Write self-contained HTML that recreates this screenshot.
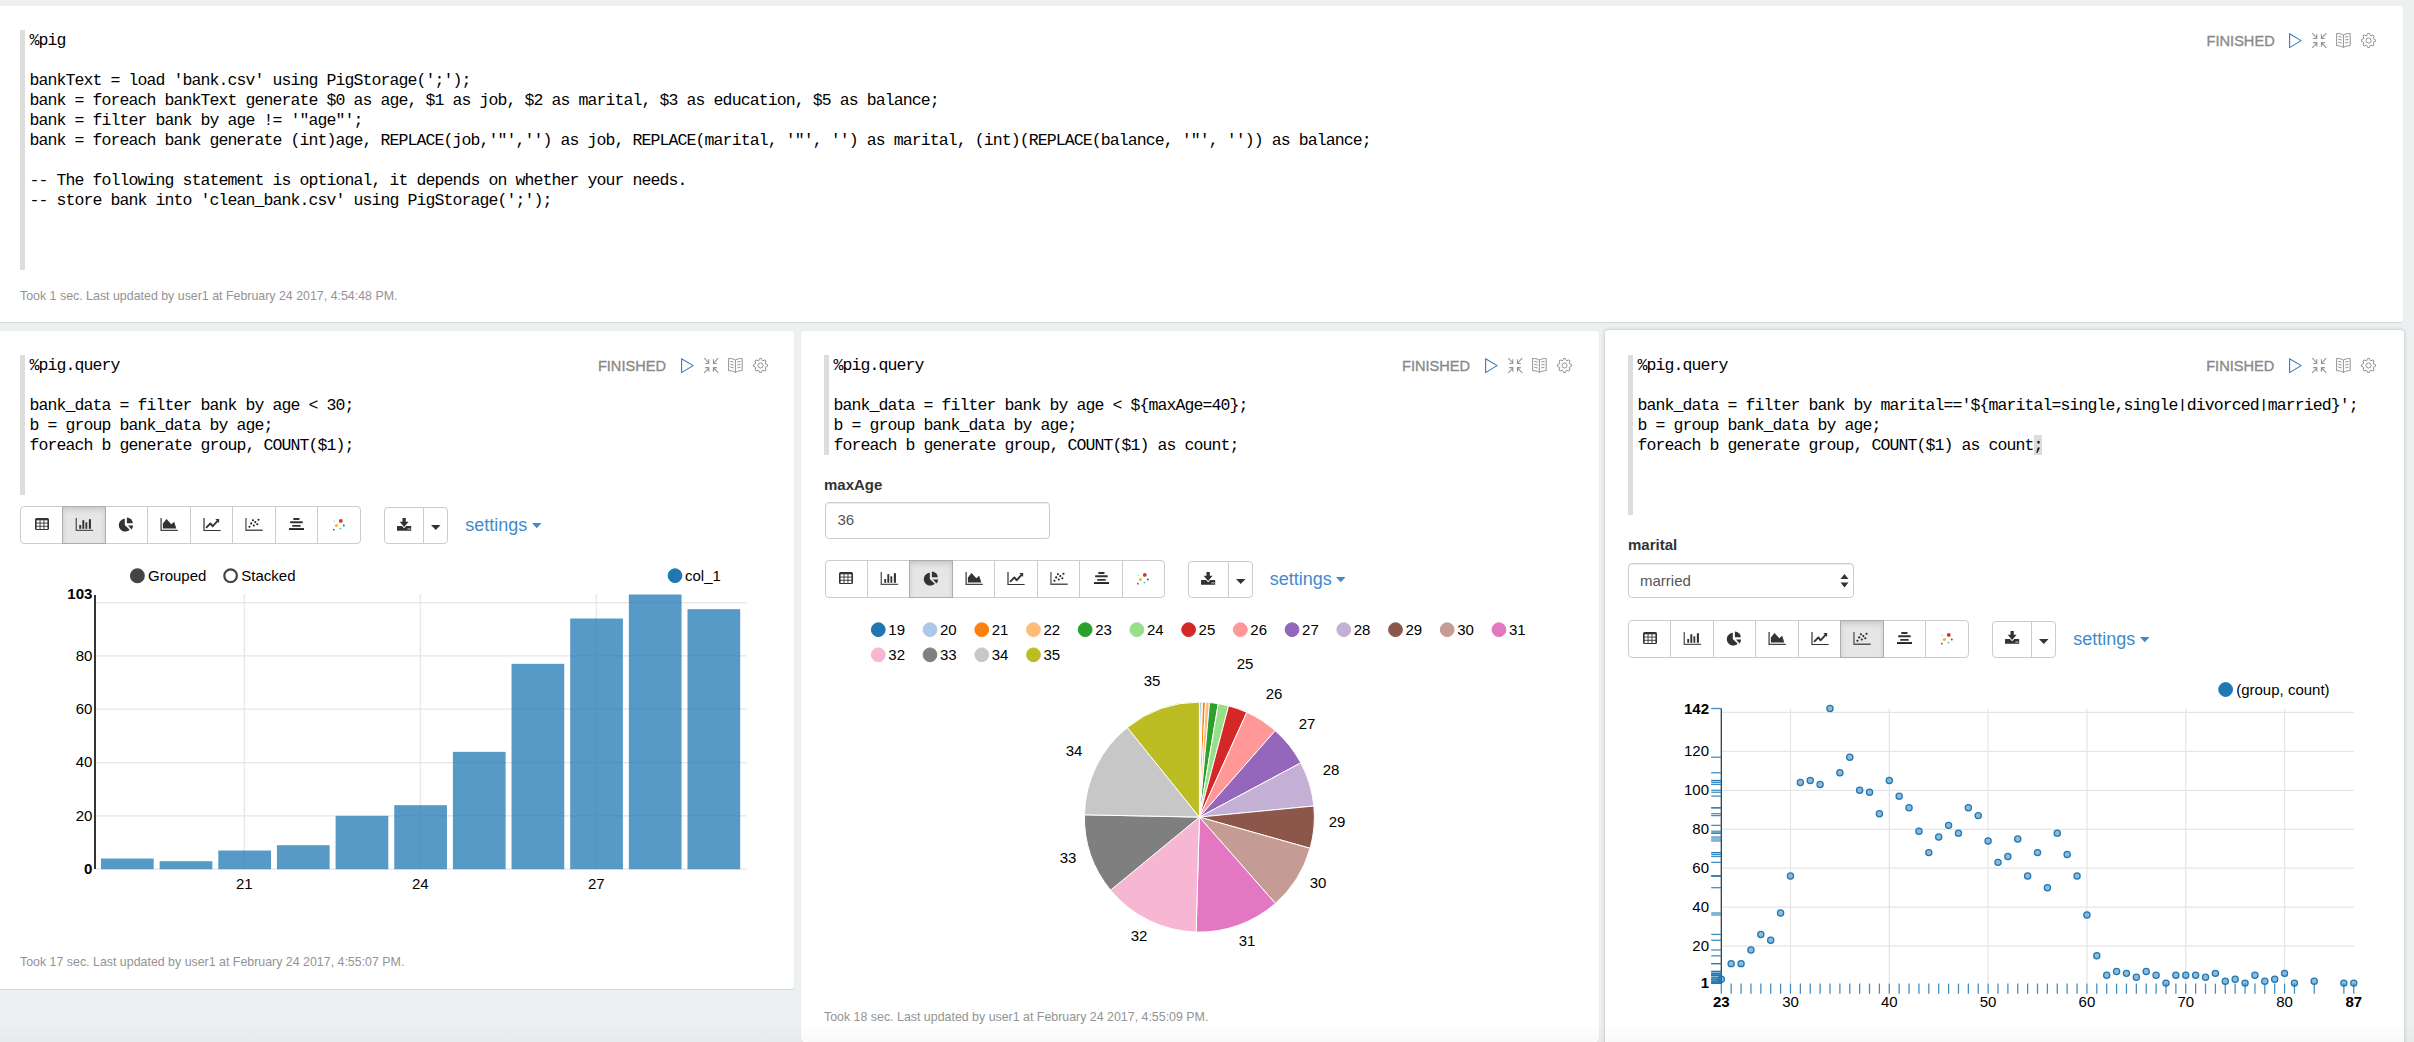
<!DOCTYPE html>
<html><head><meta charset="utf-8"><title>Zeppelin</title>
<style>
*{box-sizing:border-box;margin:0;padding:0}
html,body{width:2414px;height:1042px;overflow:hidden;background:#ecf0f1;font-family:"Liberation Sans", sans-serif;}
.abs{position:absolute}
.panel{position:absolute;background:#fff;border-radius:3px;box-shadow:0 1px 1px rgba(0,0,0,0.10);}
.bar{position:absolute;width:5px;background:#dddddd}
.code{position:absolute;font-family:"Liberation Mono", monospace;font-size:16.5px;letter-spacing:-0.9px;line-height:20px;color:#000;white-space:pre}
.fin{position:absolute;font-family:"Liberation Sans", sans-serif;font-size:14.6px;color:#8a8a8a;-webkit-text-stroke:0.35px #8a8a8a;line-height:16px;text-align:right;width:100px}
.foot{position:absolute;font-family:"Liberation Sans", sans-serif;font-size:12.4px;color:#939393;white-space:pre;line-height:14px}
.lbl{position:absolute;font-family:"Liberation Sans", sans-serif;font-size:15px;font-weight:bold;color:#333;line-height:18px}
.grp{position:absolute;border:1px solid #cccccc;border-radius:4px;background:#fff;overflow:hidden}
.btn{position:absolute;top:0;bottom:0;border-left:1px solid #cccccc}
.btn.first{border-left:none}
.btn.act{background:#e6e6e6;box-shadow:inset 0 3px 5px rgba(0,0,0,.125);border-left:1px solid #adadad;border-right:1px solid #adadad}
.set{position:absolute;font-family:"Liberation Sans", sans-serif;font-size:18px;color:#428bca;line-height:20px;white-space:pre}
svg{position:absolute;overflow:visible}
.t15{font-family:"Liberation Sans", sans-serif;font-size:15px;fill:#000}
</style></head><body>

<div class="panel" style="left:-4px;top:6px;width:2407px;height:316px"></div>
<div class="panel" style="left:-4px;top:331px;width:798px;height:657.5px"></div>
<div class="panel" style="left:801px;top:331px;width:798px;height:711px"></div>
<div class="panel" style="left:1605px;top:330px;width:799px;height:760px;box-shadow:0 0 1px rgba(0,0,0,0.25),0 0 4px rgba(0,0,0,0.16)"></div>
<div class="bar" style="left:20px;top:30px;height:240px"></div>
<div class="code" style="left:29.5px;top:30.5px">%pig

bankText = load &#x27;bank.csv&#x27; using PigStorage(&#x27;;&#x27;);
bank = foreach bankText generate $0 as age, $1 as job, $2 as marital, $3 as education, $5 as balance;
bank = filter bank by age != &#x27;&quot;age&quot;&#x27;;
bank = foreach bank generate (int)age, REPLACE(job,&#x27;&quot;&#x27;,&#x27;&#x27;) as job, REPLACE(marital, &#x27;&quot;&#x27;, &#x27;&#x27;) as marital, (int)(REPLACE(balance, &#x27;&quot;&#x27;, &#x27;&#x27;)) as balance;

-- The following statement is optional, it depends on whether your needs.
-- store bank into &#x27;clean_bank.csv&#x27; using PigStorage(&#x27;;&#x27;);</div>
<div class="fin" style="left:2174.70px;top:33.40px">FINISHED</div><svg class="abs" style="left:2289px;top:33.0px" width="14" height="16" viewBox="0 0 14 16"><path d="M0.6,0.7 L0.6,14.6 L12.1,7.65 Z" fill="none" stroke="#3a7abb" stroke-width="1.1" stroke-linejoin="round"/></svg><svg class="abs" style="left:2312.3px;top:33.2px" width="15" height="15" viewBox="0 0 15 15"><path d="M0.3,0.2 L4.5,4.6 M4.8,1.2 L4.8,5.4 L1.2,5.4 M14.3,0.2 L10.0,4.6 M9.4,1.2 L9.4,5.4 L12.8,5.4 M0.3,14.8 L4.5,10.4 M1.2,9.6 L4.8,9.6 L4.8,13.8 M14.3,14.8 L10.0,10.4 M12.8,9.6 L9.4,9.6 L9.4,13.8" fill="none" stroke="#939393" stroke-width="1.05"/></svg><svg class="abs" style="left:2336px;top:33.2px" width="15" height="15" viewBox="0 0 15 15"><path d="M7.4,2 C5.2,0.8 2.6,0.4 0.6,0.5 L0.6,12.6 C2.6,12.6 5.2,13.1 7.4,14.4 C9.6,13.1 12.2,12.6 14.2,12.6 L14.2,0.5 C12.2,0.4 9.6,0.8 7.4,2 Z M7.4,2 L7.4,14.4 M2.3,3.4 C3.4,3.5 4.6,3.8 5.6,4.2 M2.3,6.3 C3.4,6.4 4.6,6.7 5.6,7.1 M2.3,9.2 C3.4,9.3 4.6,9.6 5.6,10.0 M12.5,3.4 C11.4,3.5 10.2,3.8 9.2,4.2 M12.5,6.3 C11.4,6.4 10.2,6.7 9.2,7.1 M12.5,9.2 C11.4,9.3 10.2,9.6 9.2,10.0" fill="none" stroke="#939393" stroke-width="1.0"/></svg><svg class="abs" style="left:2361px;top:33.2px" width="15" height="15" viewBox="0 0 15 15"><path d="M5.86,2.46 L6.67,0.45 L8.33,0.45 L9.14,2.46 L9.91,2.78 L11.90,1.92 L13.08,3.10 L12.22,5.09 L12.54,5.86 L14.55,6.67 L14.55,8.33 L12.54,9.14 L12.22,9.91 L13.08,11.90 L11.90,13.08 L9.91,12.22 L9.14,12.54 L8.33,14.55 L6.67,14.55 L5.86,12.54 L5.09,12.22 L3.10,13.08 L1.92,11.90 L2.78,9.91 L2.46,9.14 L0.45,8.33 L0.45,6.67 L2.46,5.86 L2.78,5.09 L1.92,3.10 L3.10,1.92 L5.09,2.78 Z" fill="none" stroke="#939393" stroke-width="1.0" stroke-linejoin="round"/><circle cx="7.5" cy="7.5" r="2.55" fill="none" stroke="#939393" stroke-width="1.0"/></svg>
<div class="foot" style="left:20px;top:289px">Took 1 sec. Last updated by user1 at February 24 2017, 4:54:48 PM.</div>
<div class="bar" style="left:20px;top:355px;height:140px"></div>
<div class="code" style="left:29.5px;top:355.5px">%pig.query

bank_data = filter bank by age &lt; 30;
b = group bank_data by age;
foreach b generate group, COUNT($1);</div>
<div class="fin" style="left:566.00px;top:358.20px">FINISHED</div><svg class="abs" style="left:680.8px;top:357.8px" width="14" height="16" viewBox="0 0 14 16"><path d="M0.6,0.7 L0.6,14.6 L12.1,7.65 Z" fill="none" stroke="#3a7abb" stroke-width="1.1" stroke-linejoin="round"/></svg><svg class="abs" style="left:704.0999999999999px;top:358px" width="15" height="15" viewBox="0 0 15 15"><path d="M0.3,0.2 L4.5,4.6 M4.8,1.2 L4.8,5.4 L1.2,5.4 M14.3,0.2 L10.0,4.6 M9.4,1.2 L9.4,5.4 L12.8,5.4 M0.3,14.8 L4.5,10.4 M1.2,9.6 L4.8,9.6 L4.8,13.8 M14.3,14.8 L10.0,10.4 M12.8,9.6 L9.4,9.6 L9.4,13.8" fill="none" stroke="#939393" stroke-width="1.05"/></svg><svg class="abs" style="left:727.8px;top:358px" width="15" height="15" viewBox="0 0 15 15"><path d="M7.4,2 C5.2,0.8 2.6,0.4 0.6,0.5 L0.6,12.6 C2.6,12.6 5.2,13.1 7.4,14.4 C9.6,13.1 12.2,12.6 14.2,12.6 L14.2,0.5 C12.2,0.4 9.6,0.8 7.4,2 Z M7.4,2 L7.4,14.4 M2.3,3.4 C3.4,3.5 4.6,3.8 5.6,4.2 M2.3,6.3 C3.4,6.4 4.6,6.7 5.6,7.1 M2.3,9.2 C3.4,9.3 4.6,9.6 5.6,10.0 M12.5,3.4 C11.4,3.5 10.2,3.8 9.2,4.2 M12.5,6.3 C11.4,6.4 10.2,6.7 9.2,7.1 M12.5,9.2 C11.4,9.3 10.2,9.6 9.2,10.0" fill="none" stroke="#939393" stroke-width="1.0"/></svg><svg class="abs" style="left:752.8px;top:358px" width="15" height="15" viewBox="0 0 15 15"><path d="M5.86,2.46 L6.67,0.45 L8.33,0.45 L9.14,2.46 L9.91,2.78 L11.90,1.92 L13.08,3.10 L12.22,5.09 L12.54,5.86 L14.55,6.67 L14.55,8.33 L12.54,9.14 L12.22,9.91 L13.08,11.90 L11.90,13.08 L9.91,12.22 L9.14,12.54 L8.33,14.55 L6.67,14.55 L5.86,12.54 L5.09,12.22 L3.10,13.08 L1.92,11.90 L2.78,9.91 L2.46,9.14 L0.45,8.33 L0.45,6.67 L2.46,5.86 L2.78,5.09 L1.92,3.10 L3.10,1.92 L5.09,2.78 Z" fill="none" stroke="#939393" stroke-width="1.0" stroke-linejoin="round"/><circle cx="7.5" cy="7.5" r="2.55" fill="none" stroke="#939393" stroke-width="1.0"/></svg>
<div class="abs" style="left:20px;top:506.2px;width:340.5px;height:37.5px;border:1px solid #cccccc;border-radius:4px;background:#fff"></div><div class="abs" style="left:62.06px;top:506.2px;width:1px;height:37.5px;background:#cccccc"></div><div class="abs" style="left:104.62px;top:506.2px;width:1px;height:37.5px;background:#cccccc"></div><div class="abs" style="left:147.19px;top:506.2px;width:1px;height:37.5px;background:#cccccc"></div><div class="abs" style="left:189.75px;top:506.2px;width:1px;height:37.5px;background:#cccccc"></div><div class="abs" style="left:232.31px;top:506.2px;width:1px;height:37.5px;background:#cccccc"></div><div class="abs" style="left:274.88px;top:506.2px;width:1px;height:37.5px;background:#cccccc"></div><div class="abs" style="left:317.44px;top:506.2px;width:1px;height:37.5px;background:#cccccc"></div><div class="abs" style="left:62.16px;top:506.2px;width:43.46px;height:37.5px;border:1px solid #adadad;background:#e6e6e6;box-shadow:inset 0 3px 5px rgba(0,0,0,.125)"></div><svg style="left:34.5px;top:518.0px" width="14" height="12" viewBox="0 0 14 12"><rect x="0" y="0" width="14" height="12" rx="1.6" fill="#333"/><rect x="1.60" y="2.30" width="3.0" height="2.3" fill="#fff"/><rect x="5.50" y="2.30" width="3.0" height="2.3" fill="#fff"/><rect x="9.40" y="2.30" width="3.0" height="2.3" fill="#fff"/><rect x="1.60" y="5.50" width="3.0" height="2.3" fill="#fff"/><rect x="5.50" y="5.50" width="3.0" height="2.3" fill="#fff"/><rect x="9.40" y="5.50" width="3.0" height="2.3" fill="#fff"/><rect x="1.60" y="8.70" width="3.0" height="2.3" fill="#fff"/><rect x="5.50" y="8.70" width="3.0" height="2.3" fill="#fff"/><rect x="9.40" y="8.70" width="3.0" height="2.3" fill="#fff"/></svg><svg style="left:75.0px;top:517.0px" width="19" height="15" viewBox="0 0 19 15"><path d="M1.25,1.0 L1.25,13.4 L18.15,13.4" fill="none" stroke="#555" stroke-width="1.3"/><rect x="4.25" y="8.0" width="1.9" height="3.8" fill="#333"/><rect x="7.35" y="3.2" width="1.9" height="8.6" fill="#333"/><rect x="10.45" y="5.3" width="1.8" height="6.5" fill="#333"/><rect x="13.85" y="2.2" width="2.1" height="9.6" fill="#333"/></svg><svg style="left:119.0px;top:516.5px" width="15" height="15" viewBox="0 0 15 15"><path d="M5.8,1.7 L5.8,8.0 L10.7,12.8 A6.45,6.45 0 1 1 5.8,1.7 Z" fill="#333"/><path d="M7.9,6.3 L7.9,0.5 A5.9,5.9 0 0 1 13.8,6.3 Z" fill="#333"/><path d="M9.0,8.6 L14.1,8.6 A6.3,6.3 0 0 1 12.5,12.4 Z" fill="#333"/></svg><svg style="left:160.0px;top:517.0px" width="19" height="15" viewBox="0 0 19 15"><path d="M1.1,1.1 L1.1,13.4 L17.8,13.4" fill="none" stroke="#444" stroke-width="1.3"/><path d="M2.9,11.6 L2.9,6.5 L6.5,2.1 L11.3,7.3 L14.2,4.7 L16.3,11.6 Z" fill="#333"/></svg><svg style="left:202.5px;top:517.0px" width="19" height="15" viewBox="0 0 19 15"><path d="M1.0,1.1 L1.0,13.5 L17.6,13.5" fill="none" stroke="#333" stroke-width="1.2"/><path d="M3.1,10.9 L7.4,6.4 L9.55,9.3 L14.6,3.9" fill="none" stroke="#333" stroke-width="1.9" stroke-linejoin="round"/><path d="M12.3,2.1 L16.2,1.9 L16.1,6.1 Z" fill="#333"/></svg><svg style="left:245.0px;top:517.0px" width="19" height="15" viewBox="0 0 19 15"><path d="M0.95,1.1 L0.95,13.25 L17.7,13.25" fill="none" stroke="#555" stroke-width="1.3"/><circle cx="4.45" cy="9.75" r="1.05" fill="#222"/><circle cx="6.2" cy="6.4" r="1.05" fill="#222"/><circle cx="7.9" cy="3.2" r="1.05" fill="#222"/><circle cx="8.8" cy="8.5" r="1.05" fill="#222"/><circle cx="10.3" cy="5.1" r="1.05" fill="#222"/><circle cx="12.3" cy="7.3" r="1.05" fill="#222"/><circle cx="13.5" cy="2.7" r="1.05" fill="#222"/></svg><svg style="left:289.0px;top:518.0px" width="15" height="13" viewBox="0 0 15 13"><rect x="4.1" y="0.1" width="6.6" height="1.9" rx="0.9" fill="#333"/><rect x="1.0" y="3.3" width="12.9" height="1.9" rx="0.9" fill="#333"/><rect x="3.1" y="6.9" width="8.7" height="1.9" rx="0.9" fill="#333"/><rect x="0" y="10.1" width="15" height="1.9" fill="#222"/></svg><svg style="left:332.7px;top:518.9px" width="13" height="12" viewBox="0 0 13 12"><circle cx="7.8" cy="1.9" r="1.9" fill="#d9341f"/><circle cx="1.4" cy="2.3" r="0.8" fill="#9fd8ea"/><circle cx="3.4" cy="6.6" r="1.5" fill="#f3b52a"/><circle cx="10.8" cy="6.4" r="1.0" fill="#1a8a3a"/><circle cx="7.4" cy="9.6" r="0.9" fill="#3fb3d3"/><circle cx="0.8" cy="10.7" r="0.9" fill="#1a8a3a"/></svg><div class="grp" style="left:383.5px;top:507.2px;width:64.5px;height:36.5px"><div class="btn" style="left:38.5px;width:25px"></div></div><svg style="left:396.5px;top:517.5px" width="15" height="13" viewBox="0 0 15 13"><path d="M5.5,0 L8.8,0 L8.8,3.8 L11.6,3.8 L7.15,8.9 L2.7,3.8 L5.5,3.8 Z" fill="#333"/><path d="M0,8.4 Q0,7.9 0.5,7.9 L5.0,7.9 L7.15,10.3 L9.3,7.9 L13.7,7.9 Q14.2,7.9 14.2,8.4 L14.2,12.3 Q14.2,12.8 13.7,12.8 L0.5,12.8 Q0,12.8 0,12.3 Z" fill="#333"/><rect x="10.6" y="10.4" width="1.1" height="1.1" fill="#fff"/><rect x="12.3" y="10.4" width="1.1" height="1.1" fill="#fff"/></svg><svg style="left:431.2px;top:524.75px" width="10" height="6" viewBox="0 0 10 6"><path d="M0,0 L9.5,0 L4.75,5 Z" fill="#333"/></svg><div class="set" style="left:465.2px;top:514.75px">settings</div><svg style="left:531.7px;top:522.95px" width="10" height="6" viewBox="0 0 10 6"><path d="M0,0 L9.5,0 L4.75,5.2 Z" fill="#428bca"/></svg>
<svg style="left:0;top:0" width="794" height="988"><circle cx="137.4" cy="575.7" r="6.8" fill="#444" stroke="#444" stroke-width="1.3"/><text x="148" y="580.5" class="t15">Grouped</text><circle cx="230.6" cy="575.7" r="6.3" fill="none" stroke="#444" stroke-width="2.2"/><text x="241.3" y="580.5" class="t15">Stacked</text><circle cx="675" cy="575.7" r="6.9" fill="#1f77b4" stroke="#1f77b4" stroke-width="1"/><text x="685" y="580.5" class="t15">col_1</text><line x1="95.2" x2="746.3" y1="815.86" y2="815.86" stroke="#e5e5e5" stroke-width="1.25"/><line x1="95.2" x2="746.3" y1="762.52" y2="762.52" stroke="#e5e5e5" stroke-width="1.25"/><line x1="95.2" x2="746.3" y1="709.18" y2="709.18" stroke="#e5e5e5" stroke-width="1.25"/><line x1="95.2" x2="746.3" y1="655.84" y2="655.84" stroke="#e5e5e5" stroke-width="1.25"/><line x1="95.2" x2="746.3" y1="602.50" y2="602.50" stroke="#e5e5e5" stroke-width="1.25"/><line x1="244.3" x2="244.3" y1="594.6" y2="869.2" stroke="#e5e5e5" stroke-width="1.25"/><line x1="420.3" x2="420.3" y1="594.6" y2="869.2" stroke="#e5e5e5" stroke-width="1.25"/><line x1="596.3" x2="596.3" y1="594.6" y2="869.2" stroke="#e5e5e5" stroke-width="1.25"/><line x1="95.2" x2="746.3" y1="869.2" y2="869.2" stroke="#e5e5e5" stroke-width="1.25"/><rect x="101.00" y="858.53" width="52.7" height="10.67" fill="#1f77b4" fill-opacity="0.75"/><rect x="159.65" y="861.20" width="52.7" height="8.00" fill="#1f77b4" fill-opacity="0.75"/><rect x="218.30" y="850.53" width="52.7" height="18.67" fill="#1f77b4" fill-opacity="0.75"/><rect x="276.95" y="845.20" width="52.7" height="24.00" fill="#1f77b4" fill-opacity="0.75"/><rect x="335.60" y="815.86" width="52.7" height="53.34" fill="#1f77b4" fill-opacity="0.75"/><rect x="394.25" y="805.19" width="52.7" height="64.01" fill="#1f77b4" fill-opacity="0.75"/><rect x="452.90" y="751.85" width="52.7" height="117.35" fill="#1f77b4" fill-opacity="0.75"/><rect x="511.55" y="663.84" width="52.7" height="205.36" fill="#1f77b4" fill-opacity="0.75"/><rect x="570.20" y="618.50" width="52.7" height="250.70" fill="#1f77b4" fill-opacity="0.75"/><rect x="628.85" y="594.50" width="52.7" height="274.70" fill="#1f77b4" fill-opacity="0.75"/><rect x="687.50" y="609.17" width="52.7" height="260.03" fill="#1f77b4" fill-opacity="0.75"/><line x1="95" x2="95" y1="595" y2="868.9000000000001" stroke="#2a2a2a" stroke-width="1.9"/><text x="92.4" y="599.40" text-anchor="end" class="t15" style="font-weight:bold">103</text><text x="92.4" y="660.74" text-anchor="end" class="t15" style="">80</text><text x="92.4" y="714.08" text-anchor="end" class="t15" style="">60</text><text x="92.4" y="767.42" text-anchor="end" class="t15" style="">40</text><text x="92.4" y="820.76" text-anchor="end" class="t15" style="">20</text><text x="92.4" y="874.10" text-anchor="end" class="t15" style="font-weight:bold">0</text><text x="244.3" y="888.5" text-anchor="middle" class="t15">21</text><text x="420.3" y="888.5" text-anchor="middle" class="t15">24</text><text x="596.3" y="888.5" text-anchor="middle" class="t15">27</text></svg>
<div class="foot" style="left:20px;top:955px">Took 17 sec. Last updated by user1 at February 24 2017, 4:55:07 PM.</div>
<div class="bar" style="left:824px;top:355px;height:100px"></div>
<div class="code" style="left:833.5px;top:355.5px">%pig.query

bank_data = filter bank by age &lt; ${maxAge=40};
b = group bank_data by age;
foreach b generate group, COUNT($1) as count;</div>
<div class="fin" style="left:1370.10px;top:358.20px">FINISHED</div><svg class="abs" style="left:1485px;top:357.8px" width="14" height="16" viewBox="0 0 14 16"><path d="M0.6,0.7 L0.6,14.6 L12.1,7.65 Z" fill="none" stroke="#3a7abb" stroke-width="1.1" stroke-linejoin="round"/></svg><svg class="abs" style="left:1508.3px;top:358px" width="15" height="15" viewBox="0 0 15 15"><path d="M0.3,0.2 L4.5,4.6 M4.8,1.2 L4.8,5.4 L1.2,5.4 M14.3,0.2 L10.0,4.6 M9.4,1.2 L9.4,5.4 L12.8,5.4 M0.3,14.8 L4.5,10.4 M1.2,9.6 L4.8,9.6 L4.8,13.8 M14.3,14.8 L10.0,10.4 M12.8,9.6 L9.4,9.6 L9.4,13.8" fill="none" stroke="#939393" stroke-width="1.05"/></svg><svg class="abs" style="left:1532px;top:358px" width="15" height="15" viewBox="0 0 15 15"><path d="M7.4,2 C5.2,0.8 2.6,0.4 0.6,0.5 L0.6,12.6 C2.6,12.6 5.2,13.1 7.4,14.4 C9.6,13.1 12.2,12.6 14.2,12.6 L14.2,0.5 C12.2,0.4 9.6,0.8 7.4,2 Z M7.4,2 L7.4,14.4 M2.3,3.4 C3.4,3.5 4.6,3.8 5.6,4.2 M2.3,6.3 C3.4,6.4 4.6,6.7 5.6,7.1 M2.3,9.2 C3.4,9.3 4.6,9.6 5.6,10.0 M12.5,3.4 C11.4,3.5 10.2,3.8 9.2,4.2 M12.5,6.3 C11.4,6.4 10.2,6.7 9.2,7.1 M12.5,9.2 C11.4,9.3 10.2,9.6 9.2,10.0" fill="none" stroke="#939393" stroke-width="1.0"/></svg><svg class="abs" style="left:1557px;top:358px" width="15" height="15" viewBox="0 0 15 15"><path d="M5.86,2.46 L6.67,0.45 L8.33,0.45 L9.14,2.46 L9.91,2.78 L11.90,1.92 L13.08,3.10 L12.22,5.09 L12.54,5.86 L14.55,6.67 L14.55,8.33 L12.54,9.14 L12.22,9.91 L13.08,11.90 L11.90,13.08 L9.91,12.22 L9.14,12.54 L8.33,14.55 L6.67,14.55 L5.86,12.54 L5.09,12.22 L3.10,13.08 L1.92,11.90 L2.78,9.91 L2.46,9.14 L0.45,8.33 L0.45,6.67 L2.46,5.86 L2.78,5.09 L1.92,3.10 L3.10,1.92 L5.09,2.78 Z" fill="none" stroke="#939393" stroke-width="1.0" stroke-linejoin="round"/><circle cx="7.5" cy="7.5" r="2.55" fill="none" stroke="#939393" stroke-width="1.0"/></svg>
<div class="lbl" style="left:824px;top:476px">maxAge</div>
<div class="abs" style="left:824.5px;top:502.2px;width:225px;height:36.5px;border:1px solid #cccccc;border-radius:4px;box-shadow:inset 0 1px 1px rgba(0,0,0,.075);font-size:15px;color:#555;padding-left:12px;line-height:34px">36</div>
<div class="abs" style="left:824.5px;top:560.2px;width:340.5px;height:37.5px;border:1px solid #cccccc;border-radius:4px;background:#fff"></div><div class="abs" style="left:866.56px;top:560.2px;width:1px;height:37.5px;background:#cccccc"></div><div class="abs" style="left:909.12px;top:560.2px;width:1px;height:37.5px;background:#cccccc"></div><div class="abs" style="left:951.69px;top:560.2px;width:1px;height:37.5px;background:#cccccc"></div><div class="abs" style="left:994.25px;top:560.2px;width:1px;height:37.5px;background:#cccccc"></div><div class="abs" style="left:1036.81px;top:560.2px;width:1px;height:37.5px;background:#cccccc"></div><div class="abs" style="left:1079.38px;top:560.2px;width:1px;height:37.5px;background:#cccccc"></div><div class="abs" style="left:1121.94px;top:560.2px;width:1px;height:37.5px;background:#cccccc"></div><div class="abs" style="left:909.23px;top:560.2px;width:43.46px;height:37.5px;border:1px solid #adadad;background:#e6e6e6;box-shadow:inset 0 3px 5px rgba(0,0,0,.125)"></div><svg style="left:839.0px;top:572.0px" width="14" height="12" viewBox="0 0 14 12"><rect x="0" y="0" width="14" height="12" rx="1.6" fill="#333"/><rect x="1.60" y="2.30" width="3.0" height="2.3" fill="#fff"/><rect x="5.50" y="2.30" width="3.0" height="2.3" fill="#fff"/><rect x="9.40" y="2.30" width="3.0" height="2.3" fill="#fff"/><rect x="1.60" y="5.50" width="3.0" height="2.3" fill="#fff"/><rect x="5.50" y="5.50" width="3.0" height="2.3" fill="#fff"/><rect x="9.40" y="5.50" width="3.0" height="2.3" fill="#fff"/><rect x="1.60" y="8.70" width="3.0" height="2.3" fill="#fff"/><rect x="5.50" y="8.70" width="3.0" height="2.3" fill="#fff"/><rect x="9.40" y="8.70" width="3.0" height="2.3" fill="#fff"/></svg><svg style="left:879.5px;top:571.0px" width="19" height="15" viewBox="0 0 19 15"><path d="M1.25,1.0 L1.25,13.4 L18.15,13.4" fill="none" stroke="#555" stroke-width="1.3"/><rect x="4.25" y="8.0" width="1.9" height="3.8" fill="#333"/><rect x="7.35" y="3.2" width="1.9" height="8.6" fill="#333"/><rect x="10.45" y="5.3" width="1.8" height="6.5" fill="#333"/><rect x="13.85" y="2.2" width="2.1" height="9.6" fill="#333"/></svg><svg style="left:923.5px;top:570.5px" width="15" height="15" viewBox="0 0 15 15"><path d="M5.8,1.7 L5.8,8.0 L10.7,12.8 A6.45,6.45 0 1 1 5.8,1.7 Z" fill="#333"/><path d="M7.9,6.3 L7.9,0.5 A5.9,5.9 0 0 1 13.8,6.3 Z" fill="#333"/><path d="M9.0,8.6 L14.1,8.6 A6.3,6.3 0 0 1 12.5,12.4 Z" fill="#333"/></svg><svg style="left:964.5px;top:571.0px" width="19" height="15" viewBox="0 0 19 15"><path d="M1.1,1.1 L1.1,13.4 L17.8,13.4" fill="none" stroke="#444" stroke-width="1.3"/><path d="M2.9,11.6 L2.9,6.5 L6.5,2.1 L11.3,7.3 L14.2,4.7 L16.3,11.6 Z" fill="#333"/></svg><svg style="left:1007.0px;top:571.0px" width="19" height="15" viewBox="0 0 19 15"><path d="M1.0,1.1 L1.0,13.5 L17.6,13.5" fill="none" stroke="#333" stroke-width="1.2"/><path d="M3.1,10.9 L7.4,6.4 L9.55,9.3 L14.6,3.9" fill="none" stroke="#333" stroke-width="1.9" stroke-linejoin="round"/><path d="M12.3,2.1 L16.2,1.9 L16.1,6.1 Z" fill="#333"/></svg><svg style="left:1049.5px;top:571.0px" width="19" height="15" viewBox="0 0 19 15"><path d="M0.95,1.1 L0.95,13.25 L17.7,13.25" fill="none" stroke="#555" stroke-width="1.3"/><circle cx="4.45" cy="9.75" r="1.05" fill="#222"/><circle cx="6.2" cy="6.4" r="1.05" fill="#222"/><circle cx="7.9" cy="3.2" r="1.05" fill="#222"/><circle cx="8.8" cy="8.5" r="1.05" fill="#222"/><circle cx="10.3" cy="5.1" r="1.05" fill="#222"/><circle cx="12.3" cy="7.3" r="1.05" fill="#222"/><circle cx="13.5" cy="2.7" r="1.05" fill="#222"/></svg><svg style="left:1093.5px;top:572.0px" width="15" height="13" viewBox="0 0 15 13"><rect x="4.1" y="0.1" width="6.6" height="1.9" rx="0.9" fill="#333"/><rect x="1.0" y="3.3" width="12.9" height="1.9" rx="0.9" fill="#333"/><rect x="3.1" y="6.9" width="8.7" height="1.9" rx="0.9" fill="#333"/><rect x="0" y="10.1" width="15" height="1.9" fill="#222"/></svg><svg style="left:1137.2px;top:572.9px" width="13" height="12" viewBox="0 0 13 12"><circle cx="7.8" cy="1.9" r="1.9" fill="#d9341f"/><circle cx="1.4" cy="2.3" r="0.8" fill="#9fd8ea"/><circle cx="3.4" cy="6.6" r="1.5" fill="#f3b52a"/><circle cx="10.8" cy="6.4" r="1.0" fill="#1a8a3a"/><circle cx="7.4" cy="9.6" r="0.9" fill="#3fb3d3"/><circle cx="0.8" cy="10.7" r="0.9" fill="#1a8a3a"/></svg><div class="grp" style="left:1188.0px;top:561.2px;width:64.5px;height:36.5px"><div class="btn" style="left:38.5px;width:25px"></div></div><svg style="left:1201.0px;top:571.5px" width="15" height="13" viewBox="0 0 15 13"><path d="M5.5,0 L8.8,0 L8.8,3.8 L11.6,3.8 L7.15,8.9 L2.7,3.8 L5.5,3.8 Z" fill="#333"/><path d="M0,8.4 Q0,7.9 0.5,7.9 L5.0,7.9 L7.15,10.3 L9.3,7.9 L13.7,7.9 Q14.2,7.9 14.2,8.4 L14.2,12.3 Q14.2,12.8 13.7,12.8 L0.5,12.8 Q0,12.8 0,12.3 Z" fill="#333"/><rect x="10.6" y="10.4" width="1.1" height="1.1" fill="#fff"/><rect x="12.3" y="10.4" width="1.1" height="1.1" fill="#fff"/></svg><svg style="left:1235.7px;top:578.75px" width="10" height="6" viewBox="0 0 10 6"><path d="M0,0 L9.5,0 L4.75,5 Z" fill="#333"/></svg><div class="set" style="left:1269.7px;top:568.75px">settings</div><svg style="left:1336.2px;top:576.95px" width="10" height="6" viewBox="0 0 10 6"><path d="M0,0 L9.5,0 L4.75,5.2 Z" fill="#428bca"/></svg>
<svg style="left:0;top:0" width="2414" height="1042"><circle cx="878.30" cy="629.7" r="6.9" fill="#1f77b4" stroke="#1f77b4" stroke-width="1"/><text x="888.30" y="634.70" class="t15">19</text><circle cx="930.02" cy="629.7" r="6.9" fill="#aec7e8" stroke="#aec7e8" stroke-width="1"/><text x="940.02" y="634.70" class="t15">20</text><circle cx="981.74" cy="629.7" r="6.9" fill="#ff7f0e" stroke="#ff7f0e" stroke-width="1"/><text x="991.74" y="634.70" class="t15">21</text><circle cx="1033.46" cy="629.7" r="6.9" fill="#ffbb78" stroke="#ffbb78" stroke-width="1"/><text x="1043.46" y="634.70" class="t15">22</text><circle cx="1085.18" cy="629.7" r="6.9" fill="#2ca02c" stroke="#2ca02c" stroke-width="1"/><text x="1095.18" y="634.70" class="t15">23</text><circle cx="1136.90" cy="629.7" r="6.9" fill="#98df8a" stroke="#98df8a" stroke-width="1"/><text x="1146.90" y="634.70" class="t15">24</text><circle cx="1188.62" cy="629.7" r="6.9" fill="#d62728" stroke="#d62728" stroke-width="1"/><text x="1198.62" y="634.70" class="t15">25</text><circle cx="1240.34" cy="629.7" r="6.9" fill="#ff9896" stroke="#ff9896" stroke-width="1"/><text x="1250.34" y="634.70" class="t15">26</text><circle cx="1292.06" cy="629.7" r="6.9" fill="#9467bd" stroke="#9467bd" stroke-width="1"/><text x="1302.06" y="634.70" class="t15">27</text><circle cx="1343.78" cy="629.7" r="6.9" fill="#c5b0d5" stroke="#c5b0d5" stroke-width="1"/><text x="1353.78" y="634.70" class="t15">28</text><circle cx="1395.50" cy="629.7" r="6.9" fill="#8c564b" stroke="#8c564b" stroke-width="1"/><text x="1405.50" y="634.70" class="t15">29</text><circle cx="1447.22" cy="629.7" r="6.9" fill="#c49c94" stroke="#c49c94" stroke-width="1"/><text x="1457.22" y="634.70" class="t15">30</text><circle cx="1498.94" cy="629.7" r="6.9" fill="#e377c2" stroke="#e377c2" stroke-width="1"/><text x="1508.94" y="634.70" class="t15">31</text><circle cx="878.30" cy="654.8" r="6.9" fill="#f7b6d2" stroke="#f7b6d2" stroke-width="1"/><text x="888.30" y="659.80" class="t15">32</text><circle cx="930.02" cy="654.8" r="6.9" fill="#7f7f7f" stroke="#7f7f7f" stroke-width="1"/><text x="940.02" y="659.80" class="t15">33</text><circle cx="981.74" cy="654.8" r="6.9" fill="#c7c7c7" stroke="#c7c7c7" stroke-width="1"/><text x="991.74" y="659.80" class="t15">34</text><circle cx="1033.46" cy="654.8" r="6.9" fill="#bcbd22" stroke="#bcbd22" stroke-width="1"/><text x="1043.46" y="659.80" class="t15">35</text><path d="M1199.4,817.1 L1199.40,702.10 A115,115 0 0 1 1201.16,702.11 Z" fill="#1f77b4" stroke="#fff" stroke-width="1"/><path d="M1199.4,817.1 L1201.16,702.11 A115,115 0 0 1 1202.48,702.14 Z" fill="#aec7e8" stroke="#fff" stroke-width="1"/><path d="M1199.4,817.1 L1202.48,702.14 A115,115 0 0 1 1205.56,702.27 Z" fill="#ff7f0e" stroke="#fff" stroke-width="1"/><path d="M1199.4,817.1 L1205.56,702.27 A115,115 0 0 1 1209.51,702.55 Z" fill="#ffbb78" stroke="#fff" stroke-width="1"/><path d="M1199.4,817.1 L1209.51,702.55 A115,115 0 0 1 1218.25,703.66 Z" fill="#2ca02c" stroke="#fff" stroke-width="1"/><path d="M1199.4,817.1 L1218.25,703.66 A115,115 0 0 1 1228.58,705.86 Z" fill="#98df8a" stroke="#fff" stroke-width="1"/><path d="M1199.4,817.1 L1228.58,705.86 A115,115 0 0 1 1246.82,712.33 Z" fill="#d62728" stroke="#fff" stroke-width="1"/><path d="M1199.4,817.1 L1246.82,712.33 A115,115 0 0 1 1275.21,730.63 Z" fill="#ff9896" stroke="#fff" stroke-width="1"/><path d="M1199.4,817.1 L1275.21,730.63 A115,115 0 0 1 1300.81,762.87 Z" fill="#9467bd" stroke="#fff" stroke-width="1"/><path d="M1199.4,817.1 L1300.81,762.87 A115,115 0 0 1 1313.86,806.00 Z" fill="#c5b0d5" stroke="#fff" stroke-width="1"/><path d="M1199.4,817.1 L1313.86,806.00 A115,115 0 0 1 1310.09,848.30 Z" fill="#8c564b" stroke="#fff" stroke-width="1"/><path d="M1199.4,817.1 L1310.09,848.30 A115,115 0 0 1 1275.38,903.43 Z" fill="#c49c94" stroke="#fff" stroke-width="1"/><path d="M1199.4,817.1 L1275.38,903.43 A115,115 0 0 1 1196.10,932.05 Z" fill="#e377c2" stroke="#fff" stroke-width="1"/><path d="M1199.4,817.1 L1196.10,932.05 A115,115 0 0 1 1110.58,890.15 Z" fill="#f7b6d2" stroke="#fff" stroke-width="1"/><path d="M1199.4,817.1 L1110.58,890.15 A115,115 0 0 1 1084.42,814.79 Z" fill="#7f7f7f" stroke="#fff" stroke-width="1"/><path d="M1199.4,817.1 L1084.42,814.79 A115,115 0 0 1 1127.29,727.51 Z" fill="#c7c7c7" stroke="#fff" stroke-width="1"/><path d="M1199.4,817.1 L1127.29,727.51 A115,115 0 0 1 1199.40,702.10 Z" fill="#bcbd22" stroke="#fff" stroke-width="1"/><text x="1245" y="669.3" text-anchor="middle" class="t15">25</text><text x="1274" y="699.3" text-anchor="middle" class="t15">26</text><text x="1307" y="729.3" text-anchor="middle" class="t15">27</text><text x="1331" y="775.3" text-anchor="middle" class="t15">28</text><text x="1337" y="827.3" text-anchor="middle" class="t15">29</text><text x="1318" y="888.3" text-anchor="middle" class="t15">30</text><text x="1247" y="946.3" text-anchor="middle" class="t15">31</text><text x="1139" y="941.3" text-anchor="middle" class="t15">32</text><text x="1068" y="863.3" text-anchor="middle" class="t15">33</text><text x="1074" y="756.3" text-anchor="middle" class="t15">34</text><text x="1152" y="686.3" text-anchor="middle" class="t15">35</text></svg>
<div class="foot" style="left:824px;top:1010px">Took 18 sec. Last updated by user1 at February 24 2017, 4:55:09 PM.</div>
<div class="bar" style="left:1628px;top:355px;height:160px"></div>
<div class="abs" style="left:2033.6px;top:435.2px;width:8.9px;height:19.6px;background:#dcdcdc"></div>
<div class="code" style="left:1637.5px;top:355.5px">%pig.query

bank_data = filter bank by marital==&#x27;${marital=single,single<span style="display:inline-block;transform:scaleY(0.78) translateY(-1.9px)">|</span>divorced<span style="display:inline-block;transform:scaleY(0.78) translateY(-1.9px)">|</span>married}&#x27;;
b = group bank_data by age;
foreach b generate group, COUNT($1) as count;</div>
<div class="fin" style="left:2174.30px;top:358.20px">FINISHED</div><svg class="abs" style="left:2289px;top:357.8px" width="14" height="16" viewBox="0 0 14 16"><path d="M0.6,0.7 L0.6,14.6 L12.1,7.65 Z" fill="none" stroke="#3a7abb" stroke-width="1.1" stroke-linejoin="round"/></svg><svg class="abs" style="left:2312.3px;top:358px" width="15" height="15" viewBox="0 0 15 15"><path d="M0.3,0.2 L4.5,4.6 M4.8,1.2 L4.8,5.4 L1.2,5.4 M14.3,0.2 L10.0,4.6 M9.4,1.2 L9.4,5.4 L12.8,5.4 M0.3,14.8 L4.5,10.4 M1.2,9.6 L4.8,9.6 L4.8,13.8 M14.3,14.8 L10.0,10.4 M12.8,9.6 L9.4,9.6 L9.4,13.8" fill="none" stroke="#939393" stroke-width="1.05"/></svg><svg class="abs" style="left:2336px;top:358px" width="15" height="15" viewBox="0 0 15 15"><path d="M7.4,2 C5.2,0.8 2.6,0.4 0.6,0.5 L0.6,12.6 C2.6,12.6 5.2,13.1 7.4,14.4 C9.6,13.1 12.2,12.6 14.2,12.6 L14.2,0.5 C12.2,0.4 9.6,0.8 7.4,2 Z M7.4,2 L7.4,14.4 M2.3,3.4 C3.4,3.5 4.6,3.8 5.6,4.2 M2.3,6.3 C3.4,6.4 4.6,6.7 5.6,7.1 M2.3,9.2 C3.4,9.3 4.6,9.6 5.6,10.0 M12.5,3.4 C11.4,3.5 10.2,3.8 9.2,4.2 M12.5,6.3 C11.4,6.4 10.2,6.7 9.2,7.1 M12.5,9.2 C11.4,9.3 10.2,9.6 9.2,10.0" fill="none" stroke="#939393" stroke-width="1.0"/></svg><svg class="abs" style="left:2361px;top:358px" width="15" height="15" viewBox="0 0 15 15"><path d="M5.86,2.46 L6.67,0.45 L8.33,0.45 L9.14,2.46 L9.91,2.78 L11.90,1.92 L13.08,3.10 L12.22,5.09 L12.54,5.86 L14.55,6.67 L14.55,8.33 L12.54,9.14 L12.22,9.91 L13.08,11.90 L11.90,13.08 L9.91,12.22 L9.14,12.54 L8.33,14.55 L6.67,14.55 L5.86,12.54 L5.09,12.22 L3.10,13.08 L1.92,11.90 L2.78,9.91 L2.46,9.14 L0.45,8.33 L0.45,6.67 L2.46,5.86 L2.78,5.09 L1.92,3.10 L3.10,1.92 L5.09,2.78 Z" fill="none" stroke="#939393" stroke-width="1.0" stroke-linejoin="round"/><circle cx="7.5" cy="7.5" r="2.55" fill="none" stroke="#939393" stroke-width="1.0"/></svg>
<div class="lbl" style="left:1628px;top:536px">marital</div>
<div class="abs" style="left:1628px;top:562.8px;width:226px;height:35.6px;border:1px solid #cccccc;border-radius:4px;box-shadow:inset 0 1px 1px rgba(0,0,0,.075);font-size:15px;color:#555;padding-left:11px;line-height:33px">married</div>
<svg style="left:1840px;top:574px" width="9" height="14" viewBox="0 0 9 14"><path d="M0.5,5 L4.5,0 L8.5,5 Z M0.5,8.5 L4.5,13.5 L8.5,8.5 Z" fill="#333"/></svg>
<div class="abs" style="left:1628px;top:620px;width:340.5px;height:37.5px;border:1px solid #cccccc;border-radius:4px;background:#fff"></div><div class="abs" style="left:1670.06px;top:620px;width:1px;height:37.5px;background:#cccccc"></div><div class="abs" style="left:1712.62px;top:620px;width:1px;height:37.5px;background:#cccccc"></div><div class="abs" style="left:1755.19px;top:620px;width:1px;height:37.5px;background:#cccccc"></div><div class="abs" style="left:1797.75px;top:620px;width:1px;height:37.5px;background:#cccccc"></div><div class="abs" style="left:1840.31px;top:620px;width:1px;height:37.5px;background:#cccccc"></div><div class="abs" style="left:1882.88px;top:620px;width:1px;height:37.5px;background:#cccccc"></div><div class="abs" style="left:1925.44px;top:620px;width:1px;height:37.5px;background:#cccccc"></div><div class="abs" style="left:1840.41px;top:620px;width:43.46px;height:37.5px;border:1px solid #adadad;background:#e6e6e6;box-shadow:inset 0 3px 5px rgba(0,0,0,.125)"></div><svg style="left:1642.5px;top:632.0px" width="14" height="12" viewBox="0 0 14 12"><rect x="0" y="0" width="14" height="12" rx="1.6" fill="#333"/><rect x="1.60" y="2.30" width="3.0" height="2.3" fill="#fff"/><rect x="5.50" y="2.30" width="3.0" height="2.3" fill="#fff"/><rect x="9.40" y="2.30" width="3.0" height="2.3" fill="#fff"/><rect x="1.60" y="5.50" width="3.0" height="2.3" fill="#fff"/><rect x="5.50" y="5.50" width="3.0" height="2.3" fill="#fff"/><rect x="9.40" y="5.50" width="3.0" height="2.3" fill="#fff"/><rect x="1.60" y="8.70" width="3.0" height="2.3" fill="#fff"/><rect x="5.50" y="8.70" width="3.0" height="2.3" fill="#fff"/><rect x="9.40" y="8.70" width="3.0" height="2.3" fill="#fff"/></svg><svg style="left:1683.0px;top:631.0px" width="19" height="15" viewBox="0 0 19 15"><path d="M1.25,1.0 L1.25,13.4 L18.15,13.4" fill="none" stroke="#555" stroke-width="1.3"/><rect x="4.25" y="8.0" width="1.9" height="3.8" fill="#333"/><rect x="7.35" y="3.2" width="1.9" height="8.6" fill="#333"/><rect x="10.45" y="5.3" width="1.8" height="6.5" fill="#333"/><rect x="13.85" y="2.2" width="2.1" height="9.6" fill="#333"/></svg><svg style="left:1727.0px;top:630.5px" width="15" height="15" viewBox="0 0 15 15"><path d="M5.8,1.7 L5.8,8.0 L10.7,12.8 A6.45,6.45 0 1 1 5.8,1.7 Z" fill="#333"/><path d="M7.9,6.3 L7.9,0.5 A5.9,5.9 0 0 1 13.8,6.3 Z" fill="#333"/><path d="M9.0,8.6 L14.1,8.6 A6.3,6.3 0 0 1 12.5,12.4 Z" fill="#333"/></svg><svg style="left:1768.0px;top:631.0px" width="19" height="15" viewBox="0 0 19 15"><path d="M1.1,1.1 L1.1,13.4 L17.8,13.4" fill="none" stroke="#444" stroke-width="1.3"/><path d="M2.9,11.6 L2.9,6.5 L6.5,2.1 L11.3,7.3 L14.2,4.7 L16.3,11.6 Z" fill="#333"/></svg><svg style="left:1810.5px;top:631.0px" width="19" height="15" viewBox="0 0 19 15"><path d="M1.0,1.1 L1.0,13.5 L17.6,13.5" fill="none" stroke="#333" stroke-width="1.2"/><path d="M3.1,10.9 L7.4,6.4 L9.55,9.3 L14.6,3.9" fill="none" stroke="#333" stroke-width="1.9" stroke-linejoin="round"/><path d="M12.3,2.1 L16.2,1.9 L16.1,6.1 Z" fill="#333"/></svg><svg style="left:1853.0px;top:631.0px" width="19" height="15" viewBox="0 0 19 15"><path d="M0.95,1.1 L0.95,13.25 L17.7,13.25" fill="none" stroke="#555" stroke-width="1.3"/><circle cx="4.45" cy="9.75" r="1.05" fill="#222"/><circle cx="6.2" cy="6.4" r="1.05" fill="#222"/><circle cx="7.9" cy="3.2" r="1.05" fill="#222"/><circle cx="8.8" cy="8.5" r="1.05" fill="#222"/><circle cx="10.3" cy="5.1" r="1.05" fill="#222"/><circle cx="12.3" cy="7.3" r="1.05" fill="#222"/><circle cx="13.5" cy="2.7" r="1.05" fill="#222"/></svg><svg style="left:1897.0px;top:632.0px" width="15" height="13" viewBox="0 0 15 13"><rect x="4.1" y="0.1" width="6.6" height="1.9" rx="0.9" fill="#333"/><rect x="1.0" y="3.3" width="12.9" height="1.9" rx="0.9" fill="#333"/><rect x="3.1" y="6.9" width="8.7" height="1.9" rx="0.9" fill="#333"/><rect x="0" y="10.1" width="15" height="1.9" fill="#222"/></svg><svg style="left:1940.7px;top:632.9px" width="13" height="12" viewBox="0 0 13 12"><circle cx="7.8" cy="1.9" r="1.9" fill="#d9341f"/><circle cx="1.4" cy="2.3" r="0.8" fill="#9fd8ea"/><circle cx="3.4" cy="6.6" r="1.5" fill="#f3b52a"/><circle cx="10.8" cy="6.4" r="1.0" fill="#1a8a3a"/><circle cx="7.4" cy="9.6" r="0.9" fill="#3fb3d3"/><circle cx="0.8" cy="10.7" r="0.9" fill="#1a8a3a"/></svg><div class="grp" style="left:1991.5px;top:621px;width:64.5px;height:36.5px"><div class="btn" style="left:38.5px;width:25px"></div></div><svg style="left:2004.5px;top:631.3px" width="15" height="13" viewBox="0 0 15 13"><path d="M5.5,0 L8.8,0 L8.8,3.8 L11.6,3.8 L7.15,8.9 L2.7,3.8 L5.5,3.8 Z" fill="#333"/><path d="M0,8.4 Q0,7.9 0.5,7.9 L5.0,7.9 L7.15,10.3 L9.3,7.9 L13.7,7.9 Q14.2,7.9 14.2,8.4 L14.2,12.3 Q14.2,12.8 13.7,12.8 L0.5,12.8 Q0,12.8 0,12.3 Z" fill="#333"/><rect x="10.6" y="10.4" width="1.1" height="1.1" fill="#fff"/><rect x="12.3" y="10.4" width="1.1" height="1.1" fill="#fff"/></svg><svg style="left:2039.2px;top:638.55px" width="10" height="6" viewBox="0 0 10 6"><path d="M0,0 L9.5,0 L4.75,5 Z" fill="#333"/></svg><div class="set" style="left:2073.2px;top:628.55px">settings</div><svg style="left:2139.7px;top:636.75px" width="10" height="6" viewBox="0 0 10 6"><path d="M0,0 L9.5,0 L4.75,5.2 Z" fill="#428bca"/></svg>
<svg style="left:0;top:0" width="2414" height="1042"><circle cx="2225.6" cy="689.5" r="6.9" fill="#1f77b4" stroke="#1f77b4" stroke-width="1"/><text x="2236.2" y="695" class="t15">(group, count)</text><line x1="1721.3" x2="2354" y1="946.10" y2="946.10" stroke="#e5e5e5" stroke-width="1.25"/><line x1="1721.3" x2="2354" y1="907.15" y2="907.15" stroke="#e5e5e5" stroke-width="1.25"/><line x1="1721.3" x2="2354" y1="868.20" y2="868.20" stroke="#e5e5e5" stroke-width="1.25"/><line x1="1721.3" x2="2354" y1="829.25" y2="829.25" stroke="#e5e5e5" stroke-width="1.25"/><line x1="1721.3" x2="2354" y1="790.30" y2="790.30" stroke="#e5e5e5" stroke-width="1.25"/><line x1="1721.3" x2="2354" y1="751.35" y2="751.35" stroke="#e5e5e5" stroke-width="1.25"/><line x1="1721.3" x2="2354" y1="712.40" y2="712.40" stroke="#e5e5e5" stroke-width="1.25"/><line x1="1790.47" x2="1790.47" y1="708.50" y2="983.10" stroke="#e5e5e5" stroke-width="1.25"/><line x1="1889.29" x2="1889.29" y1="708.50" y2="983.10" stroke="#e5e5e5" stroke-width="1.25"/><line x1="1988.11" x2="1988.11" y1="708.50" y2="983.10" stroke="#e5e5e5" stroke-width="1.25"/><line x1="2086.93" x2="2086.93" y1="708.50" y2="983.10" stroke="#e5e5e5" stroke-width="1.25"/><line x1="2185.75" x2="2185.75" y1="708.50" y2="983.10" stroke="#e5e5e5" stroke-width="1.25"/><line x1="2284.57" x2="2284.57" y1="708.50" y2="983.10" stroke="#e5e5e5" stroke-width="1.25"/><line x1="1721.3" x2="1721.3" y1="708.50" y2="984.10" stroke="#000" stroke-opacity="0.8" stroke-width="1.25"/><line x1="1711.2" x2="1721.3" y1="979.21" y2="979.21" stroke="#1f77b4" stroke-opacity="0.85" stroke-width="1.25"/><line x1="1721.30" x2="1721.30" y1="983.6" y2="993.7" stroke="#1f77b4" stroke-opacity="0.85" stroke-width="1.25"/><line x1="1711.2" x2="1721.3" y1="963.63" y2="963.63" stroke="#1f77b4" stroke-opacity="0.85" stroke-width="1.25"/><line x1="1731.18" x2="1731.18" y1="983.6" y2="993.7" stroke="#1f77b4" stroke-opacity="0.85" stroke-width="1.25"/><line x1="1711.2" x2="1721.3" y1="963.63" y2="963.63" stroke="#1f77b4" stroke-opacity="0.85" stroke-width="1.25"/><line x1="1741.06" x2="1741.06" y1="983.6" y2="993.7" stroke="#1f77b4" stroke-opacity="0.85" stroke-width="1.25"/><line x1="1711.2" x2="1721.3" y1="950.00" y2="950.00" stroke="#1f77b4" stroke-opacity="0.85" stroke-width="1.25"/><line x1="1750.95" x2="1750.95" y1="983.6" y2="993.7" stroke="#1f77b4" stroke-opacity="0.85" stroke-width="1.25"/><line x1="1711.2" x2="1721.3" y1="934.41" y2="934.41" stroke="#1f77b4" stroke-opacity="0.85" stroke-width="1.25"/><line x1="1760.83" x2="1760.83" y1="983.6" y2="993.7" stroke="#1f77b4" stroke-opacity="0.85" stroke-width="1.25"/><line x1="1711.2" x2="1721.3" y1="940.26" y2="940.26" stroke="#1f77b4" stroke-opacity="0.85" stroke-width="1.25"/><line x1="1770.71" x2="1770.71" y1="983.6" y2="993.7" stroke="#1f77b4" stroke-opacity="0.85" stroke-width="1.25"/><line x1="1711.2" x2="1721.3" y1="912.99" y2="912.99" stroke="#1f77b4" stroke-opacity="0.85" stroke-width="1.25"/><line x1="1780.59" x2="1780.59" y1="983.6" y2="993.7" stroke="#1f77b4" stroke-opacity="0.85" stroke-width="1.25"/><line x1="1711.2" x2="1721.3" y1="875.99" y2="875.99" stroke="#1f77b4" stroke-opacity="0.85" stroke-width="1.25"/><line x1="1790.47" x2="1790.47" y1="983.6" y2="993.7" stroke="#1f77b4" stroke-opacity="0.85" stroke-width="1.25"/><line x1="1711.2" x2="1721.3" y1="782.51" y2="782.51" stroke="#1f77b4" stroke-opacity="0.85" stroke-width="1.25"/><line x1="1800.36" x2="1800.36" y1="983.6" y2="993.7" stroke="#1f77b4" stroke-opacity="0.85" stroke-width="1.25"/><line x1="1711.2" x2="1721.3" y1="780.56" y2="780.56" stroke="#1f77b4" stroke-opacity="0.85" stroke-width="1.25"/><line x1="1810.24" x2="1810.24" y1="983.6" y2="993.7" stroke="#1f77b4" stroke-opacity="0.85" stroke-width="1.25"/><line x1="1711.2" x2="1721.3" y1="784.46" y2="784.46" stroke="#1f77b4" stroke-opacity="0.85" stroke-width="1.25"/><line x1="1820.12" x2="1820.12" y1="983.6" y2="993.7" stroke="#1f77b4" stroke-opacity="0.85" stroke-width="1.25"/><line x1="1711.2" x2="1721.3" y1="708.50" y2="708.50" stroke="#1f77b4" stroke-opacity="0.85" stroke-width="1.25"/><line x1="1830.00" x2="1830.00" y1="983.6" y2="993.7" stroke="#1f77b4" stroke-opacity="0.85" stroke-width="1.25"/><line x1="1711.2" x2="1721.3" y1="772.77" y2="772.77" stroke="#1f77b4" stroke-opacity="0.85" stroke-width="1.25"/><line x1="1839.88" x2="1839.88" y1="983.6" y2="993.7" stroke="#1f77b4" stroke-opacity="0.85" stroke-width="1.25"/><line x1="1711.2" x2="1721.3" y1="757.19" y2="757.19" stroke="#1f77b4" stroke-opacity="0.85" stroke-width="1.25"/><line x1="1849.77" x2="1849.77" y1="983.6" y2="993.7" stroke="#1f77b4" stroke-opacity="0.85" stroke-width="1.25"/><line x1="1711.2" x2="1721.3" y1="790.30" y2="790.30" stroke="#1f77b4" stroke-opacity="0.85" stroke-width="1.25"/><line x1="1859.65" x2="1859.65" y1="983.6" y2="993.7" stroke="#1f77b4" stroke-opacity="0.85" stroke-width="1.25"/><line x1="1711.2" x2="1721.3" y1="792.25" y2="792.25" stroke="#1f77b4" stroke-opacity="0.85" stroke-width="1.25"/><line x1="1869.53" x2="1869.53" y1="983.6" y2="993.7" stroke="#1f77b4" stroke-opacity="0.85" stroke-width="1.25"/><line x1="1711.2" x2="1721.3" y1="813.67" y2="813.67" stroke="#1f77b4" stroke-opacity="0.85" stroke-width="1.25"/><line x1="1879.41" x2="1879.41" y1="983.6" y2="993.7" stroke="#1f77b4" stroke-opacity="0.85" stroke-width="1.25"/><line x1="1711.2" x2="1721.3" y1="780.56" y2="780.56" stroke="#1f77b4" stroke-opacity="0.85" stroke-width="1.25"/><line x1="1889.29" x2="1889.29" y1="983.6" y2="993.7" stroke="#1f77b4" stroke-opacity="0.85" stroke-width="1.25"/><line x1="1711.2" x2="1721.3" y1="796.14" y2="796.14" stroke="#1f77b4" stroke-opacity="0.85" stroke-width="1.25"/><line x1="1899.18" x2="1899.18" y1="983.6" y2="993.7" stroke="#1f77b4" stroke-opacity="0.85" stroke-width="1.25"/><line x1="1711.2" x2="1721.3" y1="807.83" y2="807.83" stroke="#1f77b4" stroke-opacity="0.85" stroke-width="1.25"/><line x1="1909.06" x2="1909.06" y1="983.6" y2="993.7" stroke="#1f77b4" stroke-opacity="0.85" stroke-width="1.25"/><line x1="1711.2" x2="1721.3" y1="831.20" y2="831.20" stroke="#1f77b4" stroke-opacity="0.85" stroke-width="1.25"/><line x1="1918.94" x2="1918.94" y1="983.6" y2="993.7" stroke="#1f77b4" stroke-opacity="0.85" stroke-width="1.25"/><line x1="1711.2" x2="1721.3" y1="852.62" y2="852.62" stroke="#1f77b4" stroke-opacity="0.85" stroke-width="1.25"/><line x1="1928.82" x2="1928.82" y1="983.6" y2="993.7" stroke="#1f77b4" stroke-opacity="0.85" stroke-width="1.25"/><line x1="1711.2" x2="1721.3" y1="837.04" y2="837.04" stroke="#1f77b4" stroke-opacity="0.85" stroke-width="1.25"/><line x1="1938.70" x2="1938.70" y1="983.6" y2="993.7" stroke="#1f77b4" stroke-opacity="0.85" stroke-width="1.25"/><line x1="1711.2" x2="1721.3" y1="825.36" y2="825.36" stroke="#1f77b4" stroke-opacity="0.85" stroke-width="1.25"/><line x1="1948.59" x2="1948.59" y1="983.6" y2="993.7" stroke="#1f77b4" stroke-opacity="0.85" stroke-width="1.25"/><line x1="1711.2" x2="1721.3" y1="833.14" y2="833.14" stroke="#1f77b4" stroke-opacity="0.85" stroke-width="1.25"/><line x1="1958.47" x2="1958.47" y1="983.6" y2="993.7" stroke="#1f77b4" stroke-opacity="0.85" stroke-width="1.25"/><line x1="1711.2" x2="1721.3" y1="807.83" y2="807.83" stroke="#1f77b4" stroke-opacity="0.85" stroke-width="1.25"/><line x1="1968.35" x2="1968.35" y1="983.6" y2="993.7" stroke="#1f77b4" stroke-opacity="0.85" stroke-width="1.25"/><line x1="1711.2" x2="1721.3" y1="815.62" y2="815.62" stroke="#1f77b4" stroke-opacity="0.85" stroke-width="1.25"/><line x1="1978.23" x2="1978.23" y1="983.6" y2="993.7" stroke="#1f77b4" stroke-opacity="0.85" stroke-width="1.25"/><line x1="1711.2" x2="1721.3" y1="840.93" y2="840.93" stroke="#1f77b4" stroke-opacity="0.85" stroke-width="1.25"/><line x1="1988.11" x2="1988.11" y1="983.6" y2="993.7" stroke="#1f77b4" stroke-opacity="0.85" stroke-width="1.25"/><line x1="1711.2" x2="1721.3" y1="862.36" y2="862.36" stroke="#1f77b4" stroke-opacity="0.85" stroke-width="1.25"/><line x1="1998.00" x2="1998.00" y1="983.6" y2="993.7" stroke="#1f77b4" stroke-opacity="0.85" stroke-width="1.25"/><line x1="1711.2" x2="1721.3" y1="856.51" y2="856.51" stroke="#1f77b4" stroke-opacity="0.85" stroke-width="1.25"/><line x1="2007.88" x2="2007.88" y1="983.6" y2="993.7" stroke="#1f77b4" stroke-opacity="0.85" stroke-width="1.25"/><line x1="1711.2" x2="1721.3" y1="838.99" y2="838.99" stroke="#1f77b4" stroke-opacity="0.85" stroke-width="1.25"/><line x1="2017.76" x2="2017.76" y1="983.6" y2="993.7" stroke="#1f77b4" stroke-opacity="0.85" stroke-width="1.25"/><line x1="1711.2" x2="1721.3" y1="875.99" y2="875.99" stroke="#1f77b4" stroke-opacity="0.85" stroke-width="1.25"/><line x1="2027.64" x2="2027.64" y1="983.6" y2="993.7" stroke="#1f77b4" stroke-opacity="0.85" stroke-width="1.25"/><line x1="1711.2" x2="1721.3" y1="852.62" y2="852.62" stroke="#1f77b4" stroke-opacity="0.85" stroke-width="1.25"/><line x1="2037.52" x2="2037.52" y1="983.6" y2="993.7" stroke="#1f77b4" stroke-opacity="0.85" stroke-width="1.25"/><line x1="1711.2" x2="1721.3" y1="887.67" y2="887.67" stroke="#1f77b4" stroke-opacity="0.85" stroke-width="1.25"/><line x1="2047.41" x2="2047.41" y1="983.6" y2="993.7" stroke="#1f77b4" stroke-opacity="0.85" stroke-width="1.25"/><line x1="1711.2" x2="1721.3" y1="833.14" y2="833.14" stroke="#1f77b4" stroke-opacity="0.85" stroke-width="1.25"/><line x1="2057.29" x2="2057.29" y1="983.6" y2="993.7" stroke="#1f77b4" stroke-opacity="0.85" stroke-width="1.25"/><line x1="1711.2" x2="1721.3" y1="854.57" y2="854.57" stroke="#1f77b4" stroke-opacity="0.85" stroke-width="1.25"/><line x1="2067.17" x2="2067.17" y1="983.6" y2="993.7" stroke="#1f77b4" stroke-opacity="0.85" stroke-width="1.25"/><line x1="1711.2" x2="1721.3" y1="875.99" y2="875.99" stroke="#1f77b4" stroke-opacity="0.85" stroke-width="1.25"/><line x1="2077.05" x2="2077.05" y1="983.6" y2="993.7" stroke="#1f77b4" stroke-opacity="0.85" stroke-width="1.25"/><line x1="1711.2" x2="1721.3" y1="914.94" y2="914.94" stroke="#1f77b4" stroke-opacity="0.85" stroke-width="1.25"/><line x1="2086.93" x2="2086.93" y1="983.6" y2="993.7" stroke="#1f77b4" stroke-opacity="0.85" stroke-width="1.25"/><line x1="1711.2" x2="1721.3" y1="955.84" y2="955.84" stroke="#1f77b4" stroke-opacity="0.85" stroke-width="1.25"/><line x1="2096.82" x2="2096.82" y1="983.6" y2="993.7" stroke="#1f77b4" stroke-opacity="0.85" stroke-width="1.25"/><line x1="1711.2" x2="1721.3" y1="975.31" y2="975.31" stroke="#1f77b4" stroke-opacity="0.85" stroke-width="1.25"/><line x1="2106.70" x2="2106.70" y1="983.6" y2="993.7" stroke="#1f77b4" stroke-opacity="0.85" stroke-width="1.25"/><line x1="1711.2" x2="1721.3" y1="971.42" y2="971.42" stroke="#1f77b4" stroke-opacity="0.85" stroke-width="1.25"/><line x1="2116.58" x2="2116.58" y1="983.6" y2="993.7" stroke="#1f77b4" stroke-opacity="0.85" stroke-width="1.25"/><line x1="1711.2" x2="1721.3" y1="973.37" y2="973.37" stroke="#1f77b4" stroke-opacity="0.85" stroke-width="1.25"/><line x1="2126.46" x2="2126.46" y1="983.6" y2="993.7" stroke="#1f77b4" stroke-opacity="0.85" stroke-width="1.25"/><line x1="1711.2" x2="1721.3" y1="977.26" y2="977.26" stroke="#1f77b4" stroke-opacity="0.85" stroke-width="1.25"/><line x1="2136.34" x2="2136.34" y1="983.6" y2="993.7" stroke="#1f77b4" stroke-opacity="0.85" stroke-width="1.25"/><line x1="1711.2" x2="1721.3" y1="971.42" y2="971.42" stroke="#1f77b4" stroke-opacity="0.85" stroke-width="1.25"/><line x1="2146.23" x2="2146.23" y1="983.6" y2="993.7" stroke="#1f77b4" stroke-opacity="0.85" stroke-width="1.25"/><line x1="1711.2" x2="1721.3" y1="975.31" y2="975.31" stroke="#1f77b4" stroke-opacity="0.85" stroke-width="1.25"/><line x1="2156.11" x2="2156.11" y1="983.6" y2="993.7" stroke="#1f77b4" stroke-opacity="0.85" stroke-width="1.25"/><line x1="1711.2" x2="1721.3" y1="983.10" y2="983.10" stroke="#1f77b4" stroke-opacity="0.85" stroke-width="1.25"/><line x1="2165.99" x2="2165.99" y1="983.6" y2="993.7" stroke="#1f77b4" stroke-opacity="0.85" stroke-width="1.25"/><line x1="1711.2" x2="1721.3" y1="975.31" y2="975.31" stroke="#1f77b4" stroke-opacity="0.85" stroke-width="1.25"/><line x1="2175.87" x2="2175.87" y1="983.6" y2="993.7" stroke="#1f77b4" stroke-opacity="0.85" stroke-width="1.25"/><line x1="1711.2" x2="1721.3" y1="975.31" y2="975.31" stroke="#1f77b4" stroke-opacity="0.85" stroke-width="1.25"/><line x1="2185.75" x2="2185.75" y1="983.6" y2="993.7" stroke="#1f77b4" stroke-opacity="0.85" stroke-width="1.25"/><line x1="1711.2" x2="1721.3" y1="975.31" y2="975.31" stroke="#1f77b4" stroke-opacity="0.85" stroke-width="1.25"/><line x1="2195.64" x2="2195.64" y1="983.6" y2="993.7" stroke="#1f77b4" stroke-opacity="0.85" stroke-width="1.25"/><line x1="1711.2" x2="1721.3" y1="977.26" y2="977.26" stroke="#1f77b4" stroke-opacity="0.85" stroke-width="1.25"/><line x1="2205.52" x2="2205.52" y1="983.6" y2="993.7" stroke="#1f77b4" stroke-opacity="0.85" stroke-width="1.25"/><line x1="1711.2" x2="1721.3" y1="973.37" y2="973.37" stroke="#1f77b4" stroke-opacity="0.85" stroke-width="1.25"/><line x1="2215.40" x2="2215.40" y1="983.6" y2="993.7" stroke="#1f77b4" stroke-opacity="0.85" stroke-width="1.25"/><line x1="1711.2" x2="1721.3" y1="981.15" y2="981.15" stroke="#1f77b4" stroke-opacity="0.85" stroke-width="1.25"/><line x1="2225.28" x2="2225.28" y1="983.6" y2="993.7" stroke="#1f77b4" stroke-opacity="0.85" stroke-width="1.25"/><line x1="1711.2" x2="1721.3" y1="979.21" y2="979.21" stroke="#1f77b4" stroke-opacity="0.85" stroke-width="1.25"/><line x1="2235.16" x2="2235.16" y1="983.6" y2="993.7" stroke="#1f77b4" stroke-opacity="0.85" stroke-width="1.25"/><line x1="1711.2" x2="1721.3" y1="983.10" y2="983.10" stroke="#1f77b4" stroke-opacity="0.85" stroke-width="1.25"/><line x1="2245.05" x2="2245.05" y1="983.6" y2="993.7" stroke="#1f77b4" stroke-opacity="0.85" stroke-width="1.25"/><line x1="1711.2" x2="1721.3" y1="975.31" y2="975.31" stroke="#1f77b4" stroke-opacity="0.85" stroke-width="1.25"/><line x1="2254.93" x2="2254.93" y1="983.6" y2="993.7" stroke="#1f77b4" stroke-opacity="0.85" stroke-width="1.25"/><line x1="1711.2" x2="1721.3" y1="981.15" y2="981.15" stroke="#1f77b4" stroke-opacity="0.85" stroke-width="1.25"/><line x1="2264.81" x2="2264.81" y1="983.6" y2="993.7" stroke="#1f77b4" stroke-opacity="0.85" stroke-width="1.25"/><line x1="1711.2" x2="1721.3" y1="979.21" y2="979.21" stroke="#1f77b4" stroke-opacity="0.85" stroke-width="1.25"/><line x1="2274.69" x2="2274.69" y1="983.6" y2="993.7" stroke="#1f77b4" stroke-opacity="0.85" stroke-width="1.25"/><line x1="1711.2" x2="1721.3" y1="973.37" y2="973.37" stroke="#1f77b4" stroke-opacity="0.85" stroke-width="1.25"/><line x1="2284.57" x2="2284.57" y1="983.6" y2="993.7" stroke="#1f77b4" stroke-opacity="0.85" stroke-width="1.25"/><line x1="1711.2" x2="1721.3" y1="983.10" y2="983.10" stroke="#1f77b4" stroke-opacity="0.85" stroke-width="1.25"/><line x1="2294.46" x2="2294.46" y1="983.6" y2="993.7" stroke="#1f77b4" stroke-opacity="0.85" stroke-width="1.25"/><line x1="1711.2" x2="1721.3" y1="981.15" y2="981.15" stroke="#1f77b4" stroke-opacity="0.85" stroke-width="1.25"/><line x1="2314.22" x2="2314.22" y1="983.6" y2="993.7" stroke="#1f77b4" stroke-opacity="0.85" stroke-width="1.25"/><line x1="1711.2" x2="1721.3" y1="983.10" y2="983.10" stroke="#1f77b4" stroke-opacity="0.85" stroke-width="1.25"/><line x1="2343.87" x2="2343.87" y1="983.6" y2="993.7" stroke="#1f77b4" stroke-opacity="0.85" stroke-width="1.25"/><line x1="1711.2" x2="1721.3" y1="983.10" y2="983.10" stroke="#1f77b4" stroke-opacity="0.85" stroke-width="1.25"/><line x1="2353.75" x2="2353.75" y1="983.6" y2="993.7" stroke="#1f77b4" stroke-opacity="0.85" stroke-width="1.25"/><circle cx="1721.30" cy="979.21" r="3.1" fill="#1f77b4" fill-opacity="0.5" stroke="#1f77b4" stroke-width="1.25"/><circle cx="1731.18" cy="963.63" r="3.1" fill="#1f77b4" fill-opacity="0.5" stroke="#1f77b4" stroke-width="1.25"/><circle cx="1741.06" cy="963.63" r="3.1" fill="#1f77b4" fill-opacity="0.5" stroke="#1f77b4" stroke-width="1.25"/><circle cx="1750.95" cy="950.00" r="3.1" fill="#1f77b4" fill-opacity="0.5" stroke="#1f77b4" stroke-width="1.25"/><circle cx="1760.83" cy="934.41" r="3.1" fill="#1f77b4" fill-opacity="0.5" stroke="#1f77b4" stroke-width="1.25"/><circle cx="1770.71" cy="940.26" r="3.1" fill="#1f77b4" fill-opacity="0.5" stroke="#1f77b4" stroke-width="1.25"/><circle cx="1780.59" cy="912.99" r="3.1" fill="#1f77b4" fill-opacity="0.5" stroke="#1f77b4" stroke-width="1.25"/><circle cx="1790.47" cy="875.99" r="3.1" fill="#1f77b4" fill-opacity="0.5" stroke="#1f77b4" stroke-width="1.25"/><circle cx="1800.36" cy="782.51" r="3.1" fill="#1f77b4" fill-opacity="0.5" stroke="#1f77b4" stroke-width="1.25"/><circle cx="1810.24" cy="780.56" r="3.1" fill="#1f77b4" fill-opacity="0.5" stroke="#1f77b4" stroke-width="1.25"/><circle cx="1820.12" cy="784.46" r="3.1" fill="#1f77b4" fill-opacity="0.5" stroke="#1f77b4" stroke-width="1.25"/><circle cx="1830.00" cy="708.50" r="3.1" fill="#1f77b4" fill-opacity="0.5" stroke="#1f77b4" stroke-width="1.25"/><circle cx="1839.88" cy="772.77" r="3.1" fill="#1f77b4" fill-opacity="0.5" stroke="#1f77b4" stroke-width="1.25"/><circle cx="1849.77" cy="757.19" r="3.1" fill="#1f77b4" fill-opacity="0.5" stroke="#1f77b4" stroke-width="1.25"/><circle cx="1859.65" cy="790.30" r="3.1" fill="#1f77b4" fill-opacity="0.5" stroke="#1f77b4" stroke-width="1.25"/><circle cx="1869.53" cy="792.25" r="3.1" fill="#1f77b4" fill-opacity="0.5" stroke="#1f77b4" stroke-width="1.25"/><circle cx="1879.41" cy="813.67" r="3.1" fill="#1f77b4" fill-opacity="0.5" stroke="#1f77b4" stroke-width="1.25"/><circle cx="1889.29" cy="780.56" r="3.1" fill="#1f77b4" fill-opacity="0.5" stroke="#1f77b4" stroke-width="1.25"/><circle cx="1899.18" cy="796.14" r="3.1" fill="#1f77b4" fill-opacity="0.5" stroke="#1f77b4" stroke-width="1.25"/><circle cx="1909.06" cy="807.83" r="3.1" fill="#1f77b4" fill-opacity="0.5" stroke="#1f77b4" stroke-width="1.25"/><circle cx="1918.94" cy="831.20" r="3.1" fill="#1f77b4" fill-opacity="0.5" stroke="#1f77b4" stroke-width="1.25"/><circle cx="1928.82" cy="852.62" r="3.1" fill="#1f77b4" fill-opacity="0.5" stroke="#1f77b4" stroke-width="1.25"/><circle cx="1938.70" cy="837.04" r="3.1" fill="#1f77b4" fill-opacity="0.5" stroke="#1f77b4" stroke-width="1.25"/><circle cx="1948.59" cy="825.36" r="3.1" fill="#1f77b4" fill-opacity="0.5" stroke="#1f77b4" stroke-width="1.25"/><circle cx="1958.47" cy="833.14" r="3.1" fill="#1f77b4" fill-opacity="0.5" stroke="#1f77b4" stroke-width="1.25"/><circle cx="1968.35" cy="807.83" r="3.1" fill="#1f77b4" fill-opacity="0.5" stroke="#1f77b4" stroke-width="1.25"/><circle cx="1978.23" cy="815.62" r="3.1" fill="#1f77b4" fill-opacity="0.5" stroke="#1f77b4" stroke-width="1.25"/><circle cx="1988.11" cy="840.93" r="3.1" fill="#1f77b4" fill-opacity="0.5" stroke="#1f77b4" stroke-width="1.25"/><circle cx="1998.00" cy="862.36" r="3.1" fill="#1f77b4" fill-opacity="0.5" stroke="#1f77b4" stroke-width="1.25"/><circle cx="2007.88" cy="856.51" r="3.1" fill="#1f77b4" fill-opacity="0.5" stroke="#1f77b4" stroke-width="1.25"/><circle cx="2017.76" cy="838.99" r="3.1" fill="#1f77b4" fill-opacity="0.5" stroke="#1f77b4" stroke-width="1.25"/><circle cx="2027.64" cy="875.99" r="3.1" fill="#1f77b4" fill-opacity="0.5" stroke="#1f77b4" stroke-width="1.25"/><circle cx="2037.52" cy="852.62" r="3.1" fill="#1f77b4" fill-opacity="0.5" stroke="#1f77b4" stroke-width="1.25"/><circle cx="2047.41" cy="887.67" r="3.1" fill="#1f77b4" fill-opacity="0.5" stroke="#1f77b4" stroke-width="1.25"/><circle cx="2057.29" cy="833.14" r="3.1" fill="#1f77b4" fill-opacity="0.5" stroke="#1f77b4" stroke-width="1.25"/><circle cx="2067.17" cy="854.57" r="3.1" fill="#1f77b4" fill-opacity="0.5" stroke="#1f77b4" stroke-width="1.25"/><circle cx="2077.05" cy="875.99" r="3.1" fill="#1f77b4" fill-opacity="0.5" stroke="#1f77b4" stroke-width="1.25"/><circle cx="2086.93" cy="914.94" r="3.1" fill="#1f77b4" fill-opacity="0.5" stroke="#1f77b4" stroke-width="1.25"/><circle cx="2096.82" cy="955.84" r="3.1" fill="#1f77b4" fill-opacity="0.5" stroke="#1f77b4" stroke-width="1.25"/><circle cx="2106.70" cy="975.31" r="3.1" fill="#1f77b4" fill-opacity="0.5" stroke="#1f77b4" stroke-width="1.25"/><circle cx="2116.58" cy="971.42" r="3.1" fill="#1f77b4" fill-opacity="0.5" stroke="#1f77b4" stroke-width="1.25"/><circle cx="2126.46" cy="973.37" r="3.1" fill="#1f77b4" fill-opacity="0.5" stroke="#1f77b4" stroke-width="1.25"/><circle cx="2136.34" cy="977.26" r="3.1" fill="#1f77b4" fill-opacity="0.5" stroke="#1f77b4" stroke-width="1.25"/><circle cx="2146.23" cy="971.42" r="3.1" fill="#1f77b4" fill-opacity="0.5" stroke="#1f77b4" stroke-width="1.25"/><circle cx="2156.11" cy="975.31" r="3.1" fill="#1f77b4" fill-opacity="0.5" stroke="#1f77b4" stroke-width="1.25"/><circle cx="2165.99" cy="983.10" r="3.1" fill="#1f77b4" fill-opacity="0.5" stroke="#1f77b4" stroke-width="1.25"/><circle cx="2175.87" cy="975.31" r="3.1" fill="#1f77b4" fill-opacity="0.5" stroke="#1f77b4" stroke-width="1.25"/><circle cx="2185.75" cy="975.31" r="3.1" fill="#1f77b4" fill-opacity="0.5" stroke="#1f77b4" stroke-width="1.25"/><circle cx="2195.64" cy="975.31" r="3.1" fill="#1f77b4" fill-opacity="0.5" stroke="#1f77b4" stroke-width="1.25"/><circle cx="2205.52" cy="977.26" r="3.1" fill="#1f77b4" fill-opacity="0.5" stroke="#1f77b4" stroke-width="1.25"/><circle cx="2215.40" cy="973.37" r="3.1" fill="#1f77b4" fill-opacity="0.5" stroke="#1f77b4" stroke-width="1.25"/><circle cx="2225.28" cy="981.15" r="3.1" fill="#1f77b4" fill-opacity="0.5" stroke="#1f77b4" stroke-width="1.25"/><circle cx="2235.16" cy="979.21" r="3.1" fill="#1f77b4" fill-opacity="0.5" stroke="#1f77b4" stroke-width="1.25"/><circle cx="2245.05" cy="983.10" r="3.1" fill="#1f77b4" fill-opacity="0.5" stroke="#1f77b4" stroke-width="1.25"/><circle cx="2254.93" cy="975.31" r="3.1" fill="#1f77b4" fill-opacity="0.5" stroke="#1f77b4" stroke-width="1.25"/><circle cx="2264.81" cy="981.15" r="3.1" fill="#1f77b4" fill-opacity="0.5" stroke="#1f77b4" stroke-width="1.25"/><circle cx="2274.69" cy="979.21" r="3.1" fill="#1f77b4" fill-opacity="0.5" stroke="#1f77b4" stroke-width="1.25"/><circle cx="2284.57" cy="973.37" r="3.1" fill="#1f77b4" fill-opacity="0.5" stroke="#1f77b4" stroke-width="1.25"/><circle cx="2294.46" cy="983.10" r="3.1" fill="#1f77b4" fill-opacity="0.5" stroke="#1f77b4" stroke-width="1.25"/><circle cx="2314.22" cy="981.15" r="3.1" fill="#1f77b4" fill-opacity="0.5" stroke="#1f77b4" stroke-width="1.25"/><circle cx="2343.87" cy="983.10" r="3.1" fill="#1f77b4" fill-opacity="0.5" stroke="#1f77b4" stroke-width="1.25"/><circle cx="2353.75" cy="983.10" r="3.1" fill="#1f77b4" fill-opacity="0.5" stroke="#1f77b4" stroke-width="1.25"/><text x="1709" y="713.50" text-anchor="end" class="t15" style="font-weight:bold">142</text><text x="1709" y="756.35" text-anchor="end" class="t15" style="">120</text><text x="1709" y="795.30" text-anchor="end" class="t15" style="">100</text><text x="1709" y="834.25" text-anchor="end" class="t15" style="">80</text><text x="1709" y="873.20" text-anchor="end" class="t15" style="">60</text><text x="1709" y="912.15" text-anchor="end" class="t15" style="">40</text><text x="1709" y="951.10" text-anchor="end" class="t15" style="">20</text><text x="1709" y="988.10" text-anchor="end" class="t15" style="font-weight:bold">1</text><text x="1721.30" y="1006.5" text-anchor="middle" class="t15" style="font-weight:bold">23</text><text x="1790.47" y="1006.5" text-anchor="middle" class="t15" style="">30</text><text x="1889.29" y="1006.5" text-anchor="middle" class="t15" style="">40</text><text x="1988.11" y="1006.5" text-anchor="middle" class="t15" style="">50</text><text x="2086.93" y="1006.5" text-anchor="middle" class="t15" style="">60</text><text x="2185.75" y="1006.5" text-anchor="middle" class="t15" style="">70</text><text x="2284.57" y="1006.5" text-anchor="middle" class="t15" style="">80</text><text x="2353.75" y="1006.5" text-anchor="middle" class="t15" style="font-weight:bold">87</text></svg>
<div class="abs" style="left:0;top:1022px;width:2414px;height:20px;background:linear-gradient(rgba(0,0,0,0),rgba(0,0,0,0.022))"></div>
</body></html>
